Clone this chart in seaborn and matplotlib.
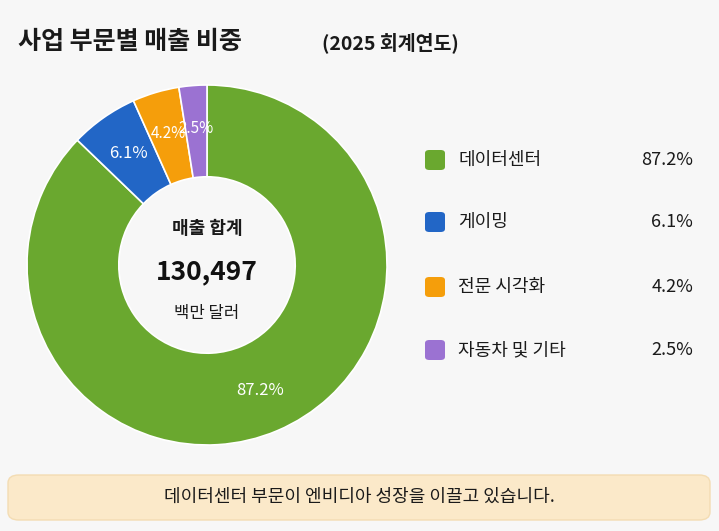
import matplotlib
matplotlib.use("Agg")
import matplotlib.pyplot as plt
from matplotlib.patches import FancyBboxPatch
import seaborn as sns

# Data
segments = ["데이터센터", "게이밍", "전문 시각화", "자동차 및 기타"]
shares = [87.2, 6.1, 4.2, 2.5]
colors = ["#6aa82f", "#2266c6", "#f59e0b", "#9b72d2"]
total_label = "130,497"

sns.set_theme(style="white")
plt.rcParams['font.family'] = ['Noto Sans CJK KR', 'DejaVu Sans']

fig = plt.figure(figsize=(7.19, 5.31), dpi=100)
fig.patch.set_facecolor("#f7f7f7")

W, H = 719, 531
def fx(x): return x / W
def fy(y): return 1 - y / H

fig.text(fx(18), fy(42), "사업 부문별 매출 비중", fontsize=18, fontweight="bold", va="center", color="#1a1a1a")
fig.text(fx(322), fy(43), "(2025 회계연도)", fontsize=14, fontweight="bold", va="center", color="#1a1a1a")

ax = fig.add_axes([fx(27), fy(445), 360 / W, 360 / H])
wedges, texts, autotexts = ax.pie(
    shares, colors=colors, startangle=90, counterclock=False,
    wedgeprops=dict(width=0.51, edgecolor="white", linewidth=1.2),
    autopct=lambda p: f"{p:.1f}%", pctdistance=0.76,
    textprops=dict(color="white", fontsize=12))
for t, s in zip(autotexts, shares):
    if s < 5:
        t.set_fontsize(11)
ax.set_xlim(-1, 1)
ax.set_ylim(-1, 1)
ax.set_aspect("equal")

ax.text(0, 0.2, "매출 합계", ha="center", va="center", fontsize=13, fontweight="bold", color="#1a1a1a")
ax.text(0, -0.04, total_label, ha="center", va="center", fontsize=19, fontweight="bold", color="#111111")
ax.text(0, -0.27, "백만 달러", ha="center", va="center", fontsize=12, color="#1a1a1a")

# Legend
ys = [160, 222, 287, 350]
for seg, val, c, y in zip(segments, shares, colors, ys):
    fig.patches.append(FancyBboxPatch((fx(425), fy(y + 10)), 20 / W, 20 / H,
                                      boxstyle="round,pad=0,rounding_size=0.006",
                                      transform=fig.transFigure, facecolor=c, edgecolor="none"))
    fig.text(fx(458), fy(y), seg, fontsize=13, va="center", color="#1a1a1a")
    fig.text(fx(693), fy(y), f"{val:.1f}%", fontsize=13, va="center", ha="right", color="#1a1a1a")

# Bottom banner
fig.patches.append(FancyBboxPatch((fx(8), fy(520)), 702 / W, 45 / H,
                                  boxstyle="round,pad=0,rounding_size=0.015",
                                  transform=fig.transFigure, facecolor="#fbe9c9", edgecolor="#f3dcb3"))
fig.text(0.5, fy(497), "데이터센터 부문이 엔비디아 성장을 이끌고 있습니다.", fontsize=13,
         ha="center", va="center", color="#1a1a1a")

fig.savefig("out.png", dpi=100, facecolor=fig.get_facecolor())
